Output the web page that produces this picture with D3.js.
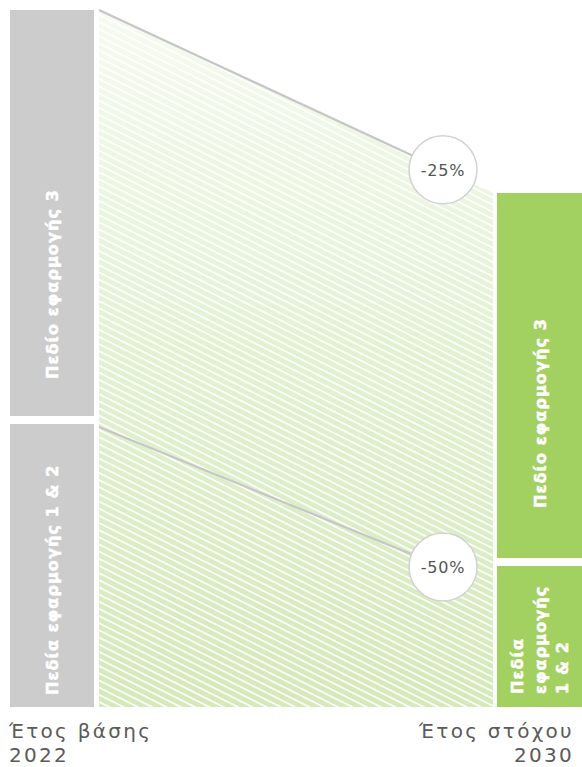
<!DOCTYPE html>
<html>
<head>
<meta charset="utf-8">
<script src="https://cdn.jsdelivr.net/npm/d3@7"></script>
<style>
  html, body { margin: 0; padding: 0; background: #fff; }
  svg { display: block; }
</style>
</head>
<body>
<svg id="chart" width="582" height="767"></svg>
<script>
// Data (units ~)
var years = ['2022', '2030'];
var yearLabels = ['Έτος βάσης', 'Έτος στόχου'];
var scope12 = [283, 141];
var scope3 = [406, 365];
var reductions = ['-25%', '-50%'];
var scope3Label = 'Πεδίο εφαρμογής 3';
var scope12Label = ['Πεδία εφαρμογής 1 & 2', ['Πεδία', 'εφαρμογής', '1 & 2']];

var svg = d3.select('#chart');
var gap = 8;

// y scale: units -> pixels
var yScale = d3.scaleLinear().domain([0, 697]).range([707, 10]);
// column positions
var xScale = d3.scaleOrdinal().domain(years).range([10, 497]);
var barW = { '2022': 84, '2030': 86 };
var areaX = [99, 493];

// stacked tops / bottoms
var s12Top = scope12.map(function(v) { return yScale(v); });
var s3Bottom = scope12.map(function(v) { return yScale(v + gap); });
var s3Top = scope12.map(function(v, i) { return yScale(v + gap + scope3[i]); });

var defs = svg.append('defs');
var grad = defs.append('linearGradient')
    .attr('id', 'areaGrad')
    .attr('x1', 0).attr('y1', 0).attr('x2', 0).attr('y2', 1);
grad.append('stop').attr('offset', '0%').attr('stop-color', '#f6fbf1');
grad.append('stop').attr('offset', '45%').attr('stop-color', '#e4f2d5');
grad.append('stop').attr('offset', '100%').attr('stop-color', '#d4eaba');

var pat = defs.append('pattern')
    .attr('id', 'stripes')
    .attr('patternUnits', 'userSpaceOnUse')
    .attr('width', 6.4).attr('height', 6.4)
    .attr('patternTransform', 'rotate(26.6)');
pat.append('rect').attr('x', 0).attr('y', 0).attr('width', 6.4).attr('height', 1.6)
    .attr('fill', '#ffffff');

// area between base and target
var areaPts = [
    [areaX[0], s3Top[0]],
    [areaX[1], s3Top[1]],
    [areaX[1], yScale(0)],
    [areaX[0], yScale(0)]
];
svg.append('path')
    .attr('d', d3.line()(areaPts) + 'Z')
    .attr('fill', 'url(#areaGrad)');
svg.append('path')
    .attr('d', d3.line()(areaPts) + 'Z')
    .attr('fill', 'url(#stripes)');

// circle positions
var cx = 443;
var c1y = s3Top[0] + (s3Top[1] - s3Top[0]) * (cx - areaX[0]) / (areaX[1] - areaX[0]);
var circles = [
    { x: cx, y: c1y, label: reductions[0], from: [areaX[0], s3Top[0]] },
    { x: cx, y: s12Top[1] + 1, label: reductions[1], from: [areaX[0], s12Top[0] + 3] }
];

// gray guide lines
svg.selectAll('.guide')
    .data(circles)
    .enter().append('line')
    .attr('class', 'guide')
    .attr('x1', function(d) { return d.from[0]; })
    .attr('y1', function(d) { return d.from[1]; })
    .attr('x2', function(d) { return d.x; })
    .attr('y2', function(d) { return d.y; })
    .attr('stroke', '#c6c6c6')
    .attr('stroke-width', 2.2);

// bars
var barColor = ['#cccccc', '#a3d161'];
years.forEach(function(yr, i) {
    svg.append('rect')
        .attr('x', xScale(yr)).attr('width', barW[yr])
        .attr('y', s12Top[i]).attr('height', yScale(0) - s12Top[i])
        .attr('fill', barColor[i]);
    svg.append('rect')
        .attr('x', xScale(yr)).attr('width', barW[yr])
        .attr('y', s3Top[i]).attr('height', s3Bottom[i] - s3Top[i])
        .attr('fill', barColor[i]);
});

var labelStyle = function(sel) {
    sel.attr('fill', '#ffffff')
        .attr('stroke', '#ffffff')
        .attr('stroke-width', 0.5)
        .attr('font-family', '"DejaVu Sans", sans-serif')
        .attr('font-weight', 'bold')
        .attr('font-size', 16)
        .attr('letter-spacing', 1.1);
};

// left labels
svg.append('text')
    .attr('transform', 'translate(' + [58, 379] + ') rotate(-90)')
    .text(scope3Label)
    .call(labelStyle);
svg.append('text')
    .attr('transform', 'translate(' + [58, 695] + ') rotate(-90)')
    .text(scope12Label[0])
    .call(labelStyle);
// right labels
svg.append('text')
    .attr('transform', 'translate(' + [546, 508] + ') rotate(-90)')
    .text(scope3Label)
    .call(labelStyle);
scope12Label[1].forEach(function(t, i) {
    svg.append('text')
        .attr('transform', 'translate(' + [523 + i * 22.5, 694] + ') rotate(-90)')
        .text(t)
        .call(labelStyle);
});

// reduction circles
var cg = svg.selectAll('.red')
    .data(circles)
    .enter().append('g')
    .attr('class', 'red')
    .attr('transform', function(d) { return 'translate(' + [d.x, d.y] + ')'; });
cg.append('circle')
    .attr('r', 34)
    .attr('fill', '#ffffff')
    .attr('stroke', '#d2d2d2')
    .attr('stroke-width', 1.5);
cg.append('text')
    .attr('text-anchor', 'middle')
    .attr('dy', '0.36em')
    .attr('font-family', '"DejaVu Sans", sans-serif')
    .attr('font-size', 16)
    .attr('letter-spacing', 0.8)
    .attr('fill', '#555555')
    .text(function(d) { return d.label; });

// year labels
var axisText = function(sel) {
    sel.attr('font-family', '"DejaVu Sans", sans-serif')
        .attr('font-size', 20)
        .attr('letter-spacing', 2.3)
        .attr('fill', '#5a5a5a');
};
svg.append('text').attr('x', 9).attr('y', 738).text(yearLabels[0]).call(axisText);
svg.append('text').attr('x', 9).attr('y', 762).text(years[0]).call(axisText);
svg.append('text').attr('x', 574).attr('y', 738).attr('text-anchor', 'end').text(yearLabels[1]).call(axisText);
svg.append('text').attr('x', 574).attr('y', 762).attr('text-anchor', 'end').text(years[1]).call(axisText);
</script>
</body>
</html>
